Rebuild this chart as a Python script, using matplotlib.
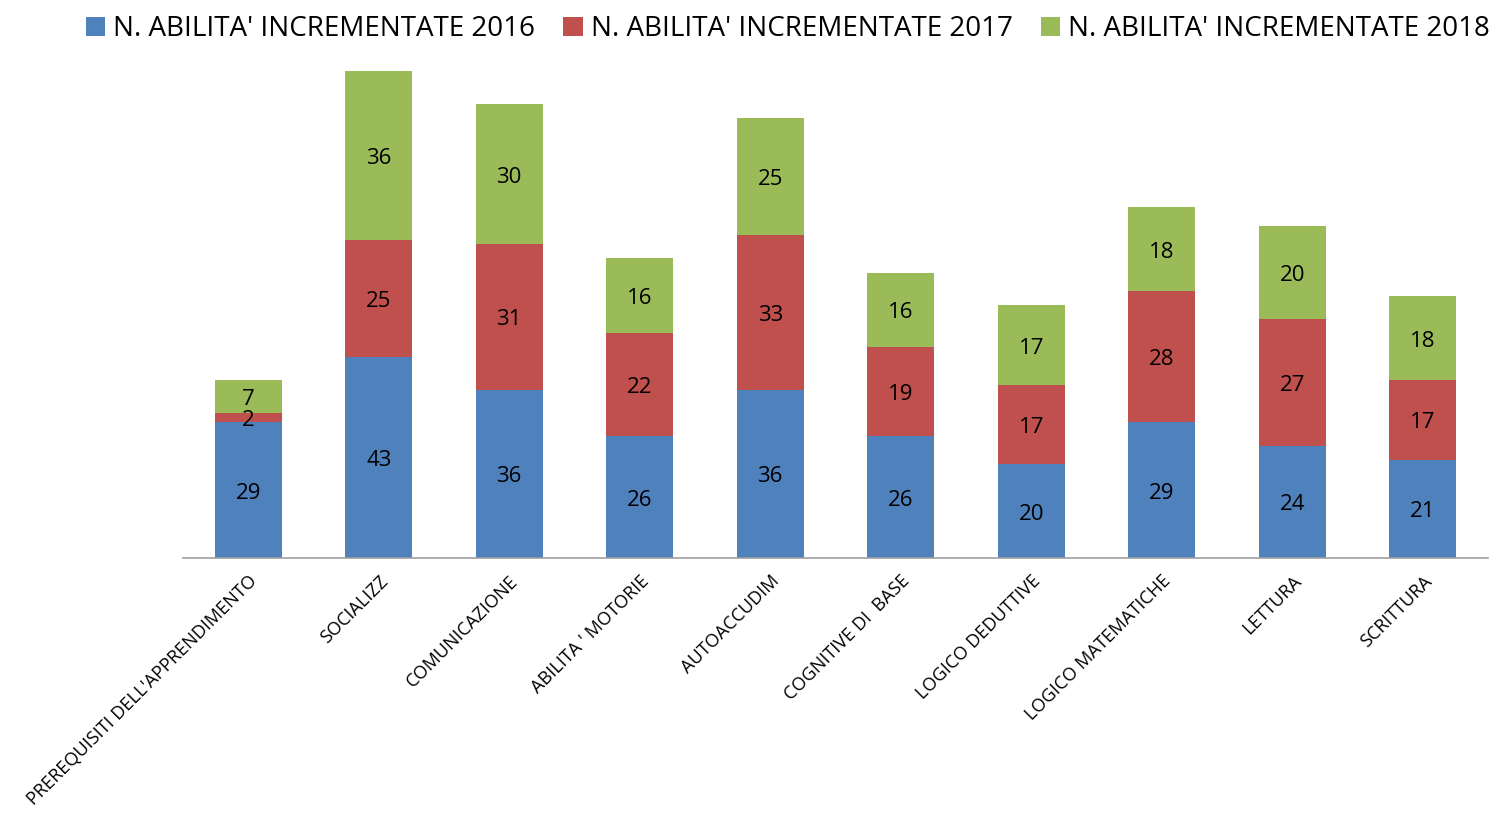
import matplotlib
matplotlib.use("Agg")
import matplotlib.pyplot as plt
import matplotlib.transforms as mtransforms
import numpy as np

plt.rcParams['font.family'] = ['Open Sans', 'DejaVu Sans']

categories = ["PREREQUISITI DELL'APPRENDIMENTO", "SOCIALIZZ", "COMUNICAZIONE",
              "ABILITA ' MOTORIE", "AUTOACCUDIM", "COGNITIVE DI  BASE",
              "LOGICO DEDUTTIVE", "LOGICO MATEMATICHE", "LETTURA", "SCRITTURA"]
v2016 = [29, 43, 36, 26, 36, 26, 20, 29, 24, 21]
v2017 = [2, 25, 31, 22, 33, 19, 17, 28, 27, 17]
v2018 = [7, 36, 30, 16, 25, 16, 17, 18, 20, 18]
series_names = ["N. ABILITA' INCREMENTATE 2016", "N. ABILITA' INCREMENTATE 2017",
                "N. ABILITA' INCREMENTATE 2018"]
colors = ["#4F81BD", "#C0504D", "#9BBB59"]

fig = plt.figure(figsize=(15.01, 8.16), dpi=100)
ax = fig.add_axes([0.1219, 0.3162, 0.8694, 0.6188])
label_tr = mtransforms.offset_copy(ax.transData, fig=fig, x=0, y=-3, units='dots')

x = np.arange(len(categories))
bottom = np.zeros(len(categories))
handles = []
for vals, name, col in zip([v2016, v2017, v2018], series_names, colors):
    vals = np.array(vals)
    b = ax.bar(x, vals, 0.515, bottom=bottom, color=col, label=name)
    handles.append(b)
    for xi, bi, vi in zip(x, bottom, vals):
        ax.text(xi, bi + vi / 2, str(vi), ha='center', va='center',
                fontsize=16, color='black', transform=label_tr)
    bottom = bottom + vals

ax.set_xlim(-0.5, len(categories) - 0.5)
ax.set_ylim(0, 107.9)
for s in ['top', 'right', 'left']:
    ax.spines[s].set_visible(False)
ax.spines['bottom'].set_color('#A0A0A0')
ax.spines['bottom'].set_linewidth(1.2)
ax.set_yticks([])
ax.set_xticks(x)
ax.set_xticklabels(categories, rotation=45, ha='right', rotation_mode='anchor',
                   fontsize=13.1)
ax.tick_params(axis='x', length=0, pad=10)

fig.legend(handles=handles, labels=series_names, loc='upper center',
           bbox_to_anchor=(0.525, 1.012), ncol=3, frameon=False, fontsize=20,
           handlelength=0.7, handleheight=0.7, handletextpad=0.3, columnspacing=1.0)

fig.savefig("out.png", dpi=100)
